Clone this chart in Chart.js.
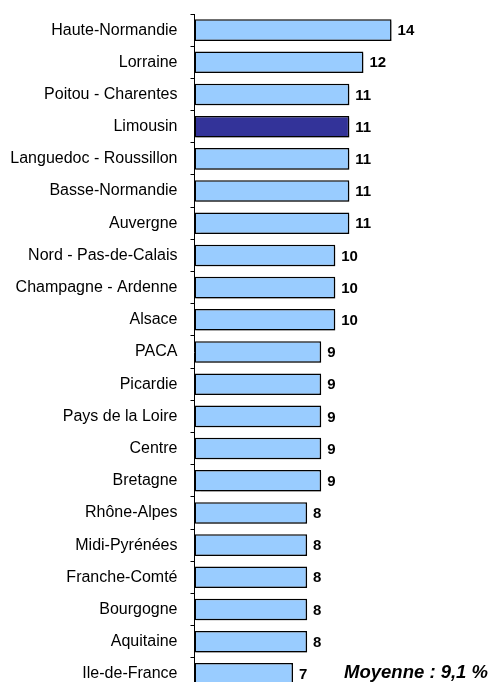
<!DOCTYPE html>
<html>
<head>
<meta charset="utf-8">
<script src="https://cdn.jsdelivr.net/npm/chart.js@4"></script>
<style>
  html, body { margin: 0; padding: 0; background: #fff; overflow: hidden; }
  canvas { display: block; }
</style>
</head>
<body>
<canvas id="myChart" width="492" height="692"></canvas>
<script>
var regions = [
  'Haute-Normandie', 'Lorraine', 'Poitou - Charentes', 'Limousin',
  'Languedoc - Roussillon', 'Basse-Normandie', 'Auvergne',
  'Nord - Pas-de-Calais', 'Champagne - Ardenne', 'Alsace', 'PACA',
  'Picardie', 'Pays de la Loire', 'Centre', 'Bretagne', 'Rhône-Alpes',
  'Midi-Pyrénées', 'Franche-Comté', 'Bourgogne', 'Aquitaine', 'Ile-de-France'
];
var values = [14, 12, 11, 11, 11, 11, 11, 10, 10, 10, 9, 9, 9, 9, 9, 8, 8, 8, 8, 8, 7];
var highlight = 'Limousin';
var average = 'Moyenne : 9,1 %';

var barColors = regions.map(function (r) {
  return r === highlight ? '#333399' : '#99ccff';
});

var FONT = '"Liberation Sans", Arial, sans-serif';

var shadowPlugin = {
  id: 'shadow',
  beforeDatasetsDraw: function (chart) {
    var c = chart.ctx;
    c.save();
    c.shadowColor = 'rgba(0,0,0,0.25)';
    c.shadowOffsetX = 2;
    c.shadowOffsetY = 2;
    c.shadowBlur = 1;
  },
  afterDatasetsDraw: function (chart) {
    chart.ctx.restore();
  }
};

var labelPlugin = {
  id: 'valueLabels',
  afterDatasetsDraw: function (chart) {
    var c = chart.ctx;
    var meta = chart.getDatasetMeta(0);
    c.save();
    c.fillStyle = '#000';
    c.font = 'bold 15px ' + FONT;
    c.textAlign = 'left';
    c.textBaseline = 'middle';
    meta.data.forEach(function (bar, i) {
      c.fillText(values[i], bar.x + 6, bar.y + 1);
    });
    // average note
    c.font = 'italic bold 18.5px ' + FONT;
    c.textAlign = 'right';
    c.textBaseline = 'alphabetic';
    c.fillText(average, 488, 678);
    c.restore();
  }
};

var ctx = document.getElementById('myChart').getContext('2d');
var myChart = new Chart(ctx, {
  type: 'bar',
  data: {
    labels: regions,
    datasets: [{
      data: values,
      backgroundColor: barColors,
      borderColor: '#000',
      borderWidth: 1.5,
      borderSkipped: false,
      barPercentage: 0.67,
      categoryPercentage: 1
    }]
  },
  options: {
    indexAxis: 'y',
    responsive: false,
    animation: false,
    layout: { padding: { top: 14, bottom: 2, right: 16, left: 0 } },
    plugins: {
      legend: { display: false },
      tooltip: { enabled: false }
    },
    scales: {
      x: {
        display: false,
        min: 0,
        max: 20
      },
      y: {
        offset: true,
        afterFit: function (scale) {
          scale.width = 194.5;
          scale.paddingTop = 0;
          scale.paddingBottom = 0;
        },
        grid: {
          offset: true,
          drawOnChartArea: false,
          drawTicks: true,
          tickLength: 4,
          color: '#000'
        },
        border: { display: true, color: '#000', width: 1 },
        ticks: {
          padding: 13,
          color: '#000',
          font: { family: FONT, size: 16 }
        }
      }
    }
  },
  plugins: [shadowPlugin, labelPlugin]
});
</script>
</body>
</html>
